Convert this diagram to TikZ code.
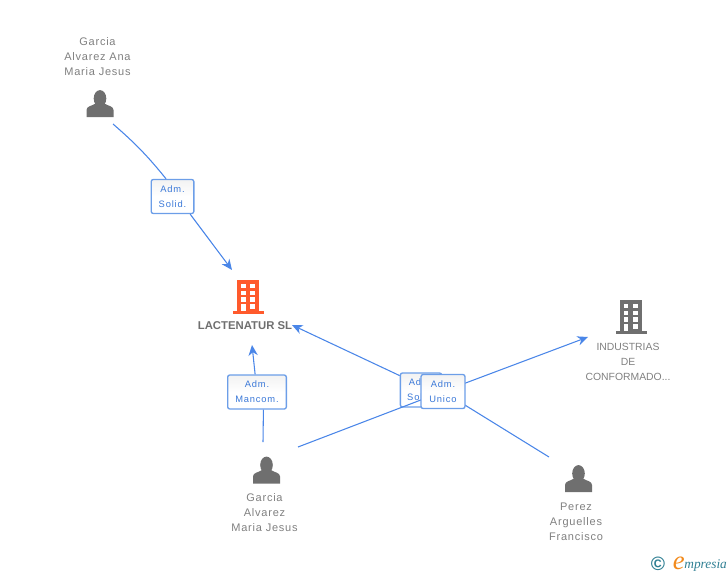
\documentclass[tikz,border=0pt]{standalone}
\usepackage{fontspec}
\usepackage{tikz}
\usetikzlibrary{arrows.meta}
\setmainfont{Liberation Sans}
\newfontfamily\labelfont[LetterSpace=7]{Liberation Sans}
\newfontfamily\rolefont[LetterSpace=9]{Liberation Sans}
\newfontfamily\logofont{Liberation Serif}
\definecolor{linkblue}{HTML}{4A86E8}
\definecolor{roleblue}{HTML}{3A78D8}
\definecolor{roleedge}{HTML}{6C9EE8}
\definecolor{icongray}{HTML}{6F6F6F}
\definecolor{textgray}{HTML}{808080}
\definecolor{mainorange}{HTML}{FF5A2C}
\definecolor{logoteal}{HTML}{2F7F93}
\definecolor{logoorange}{HTML}{F28A1C}
\tikzset{
  link/.style={color=linkblue,draw,line width=0.8pt},
  role/.style={draw=roleedge,line width=1pt,rounded corners=1.6pt,top color=black!5,bottom color=white,
    middle color=white,text=roleblue,font=\rolefont\fontsize{7}{11.25}\selectfont,align=center,inner sep=0pt,
    minimum height=25.5pt},
  whoname/.style={text=textgray,font=\labelfont\fontsize{8.25}{11.25}\selectfont,align=center,inner sep=0pt},
  pics/person/.style={code={
    \fill[icongray] (0,-5) ellipse (6.3 and 8.4);
    \fill[icongray] (-13.5,13.5) -- (-13.5,6.5) .. controls (-13.5,2.5) and (-8,2.5) .. (-4.5,0)
      -- (4.5,0) .. controls (8,2.5) and (13.5,2.5) .. (13.5,6.5) -- (13.5,13.5) -- cycle;
  }},
  pics/block/.style={code={
    \fill[#1] (-11.2,-16.5) rectangle (10.8,15);
    \fill[#1] (-15.5,14) rectangle (15.5,17);
    \foreach \col in {-7.5,1.8} {
      \foreach \row in {-12.5,-5.8,0.8} {
        \fill[white] (\col,\row) rectangle ++(4.7,4.4);
      }
    }
    \fill[white] (-7.5,7.5) rectangle (-2.8,14);
    \fill[white] (1.8,7.5) rectangle (6.5,12);
  }}
}

\begin{document}
\begin{tikzpicture}[x=0.75pt,y=-0.75pt,-,>={Stealth[length=8pt,width=7pt]},semithick]
  \useasboundingbox (0,0) rectangle (728,575);

  % people and companies
  \pic at (100,103.5) {person};
  \pic at (266.5,470) {person};
  \pic at (578.5,478.5) {person};
  \pic at (248.5,296.5) {block=mainorange};
  \pic at (631,316.5) {block=icongray};

  \node[whoname] (ana)      at (97.5,57)  {Garcia\\Alvarez Ana\\Maria Jesus};
  \node[whoname] (maria)    at (264.5,513) {Garcia\\Alvarez\\Maria Jesus};
  \node[whoname] (perez)    at (576,522)  {Perez\\Arguelles\\Francisco};
  \node[whoname,font=\fontsize{7.8}{11.25}\selectfont] (industrias) at (628,362) {INDUSTRIAS\\DE\\CONFORMADO...};
  \node[text=icongray,font=\bfseries\fontsize{8.5}{10}\selectfont,inner sep=0pt] (lactenatur) at (245,326) {LACTENATUR SL};

  % free ends of the links
  \coordinate (anaout)     at (113,124);
  \coordinate (mariaout)   at (263,442);
  \coordinate (mariaright) at (298,447);
  \coordinate (perezout)   at (549,457);
  \coordinate (top)        at (232,270);
  \coordinate (under)      at (252,345);
  \coordinate (side)       at (292,325);
  \coordinate (far)        at (588,337);
  \coordinate (unicomid)   at (443,391.5);

  \node[role,minimum width=32pt] (solid)  at (172.5,196.5) {Adm.\\Solid.};
  \node[role,minimum width=44pt] (mancom) at (257,392)     {Adm.\\Mancom.};
  \node[role,minimum width=31pt] (sol)    at (421,390)     {Adm.\\Solid.};

  \path[link] (anaout) edge [bend left=5] (solid.110)
              (solid.-45) edge [->] (top)
              (mariaout) edge (mancom.-70)
              (mancom) edge [->] (under)
              (sol.146) edge [->] (side)
              (mariaright) edge (unicomid)
              (unicomid) edge [->] (far)
              (perezout) edge (unicomid);

  \node[role,minimum width=33pt] (unico) at (unicomid) {Adm.\\Unico};

  % logo
  \node[text=logoteal,font=\bfseries\fontsize{14.5}{14.5}\selectfont,inner sep=0pt] (copy) at (658,564) {©};
  \node[text=logoteal,font=\logofont\itshape\fontsize{10}{10}\selectfont,inner sep=0pt,anchor=base west] (logo) at (684,568)
    {mpresia};
  \node[text=logoorange,font=\logofont\itshape\fontsize{20}{20}\selectfont,inner sep=0pt,anchor=base east] (logoe) at (685,569) {e};
\end{tikzpicture}
\end{document}
